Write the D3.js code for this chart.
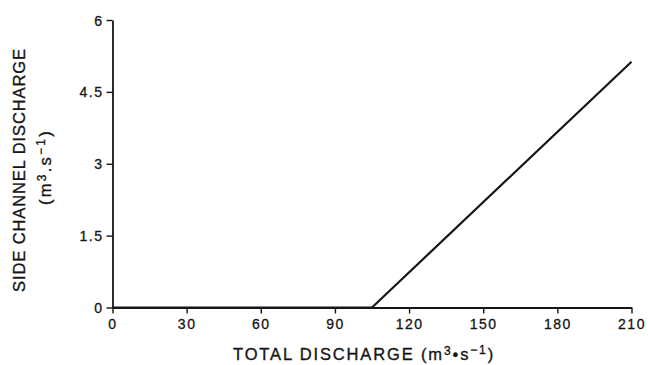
<!DOCTYPE html>
<html>
<head>
<meta charset="utf-8">
<script src="https://cdn.jsdelivr.net/npm/d3@7"></script>
<style>
body { margin: 0; background: #fff; }
svg { display: block; font-family: "Liberation Sans", Arial, sans-serif; }
</style>
</head>
<body>
<div id="graph"></div>
<script>
// total discharge vs side channel discharge
let totalQ = [0, 105, 210];
let sideQ = [0, 0, 5.13];
let xTicks = [0, 30, 60, 90, 120, 150, 180, 210];
let yTicks = [0, 1.5, 3, 4.5, 6];

let W = 648, H = 365;
let svg = d3.select("#graph").append("svg").attr("width", W).attr("height", H);

let x = d3.scaleLinear().domain([0, 210]).range([112.5, 631.5]);
let y = d3.scaleLinear().domain([0, 6]).range([307.5, 20]);

let ink = "#151515";

let xAxis = svg.append("g").attr("transform", "translate(0," + y(0) + ")")
    .call(d3.axisBottom(x).tickValues(xTicks).tickSize(6).tickSizeOuter(0).tickPadding(6)
        .tickFormat(d3.format("d")));
let yAxis = svg.append("g").attr("transform", "translate(" + x(0) + ",0)")
    .call(d3.axisLeft(y).tickValues(yTicks).tickSize(6).tickSizeOuter(0).tickPadding(3)
        .tickFormat(function(d) { return d; }));

[xAxis, yAxis].forEach(function(g) {
    g.select(".domain").attr("stroke", ink).attr("stroke-width", 1.8);
    g.selectAll(".tick line").attr("stroke", ink).attr("stroke-width", 1.4);
    g.selectAll(".tick text").attr("fill", ink).attr("stroke", ink).attr("stroke-width", 0.3)
        .style("font-size", "14px")
        .style("letter-spacing", "1.5px");
});
yAxis.selectAll(".tick text").attr("dy", "0.36em");

// the line
let line = d3.line().x(function(d, i) { return x(totalQ[i]); })
    .y(function(d, i) { return y(sideQ[i]); });
svg.append("path").datum(sideQ)
    .attr("d", line)
    .attr("fill", "none")
    .attr("stroke", ink)
    .attr("stroke-width", 2.2);

// spread the letters of a label so it spans a given width
let fit = function(t, target) {
    let n = t.text().length;
    let len = t.node().getComputedTextLength();
    t.style("letter-spacing", ((target - len) / n) + "px");
};

let unitLabel = function(t, dot) {
    t.append("tspan").text("(m");
    t.append("tspan").text("3").style("font-size", "12px").attr("dy", -5);
    t.append("tspan").text(dot).attr("dy", 5);
    t.append("tspan").text("s");
    t.append("tspan").text("\u22121").style("font-size", "12px").attr("dy", -6);
    t.append("tspan").text(")").attr("dy", 6);
};

let titleStyle = function(t) {
    t.attr("text-anchor", "middle")
        .attr("fill", ink)
        .attr("stroke", ink)
        .attr("stroke-width", 0.35)
        .style("font-size", "16.5px");
};

// x title
let xt = svg.append("text")
    .attr("x", 364).attr("y", 360);
titleStyle(xt);
xt.append("tspan").text("TOTAL DISCHARGE ");
unitLabel(xt, "\u2022");
fit(xt, 262);

// y title
let yt = svg.append("text")
    .attr("transform", "translate(25,170) rotate(-90)")
    .text("SIDE CHANNEL DISCHARGE");
titleStyle(yt);
fit(yt, 244);

let yt2 = svg.append("text")
    .attr("transform", "translate(51,167) rotate(-90)");
titleStyle(yt2);
unitLabel(yt2, ".");
fit(yt2, 76);
</script>
</body>
</html>
